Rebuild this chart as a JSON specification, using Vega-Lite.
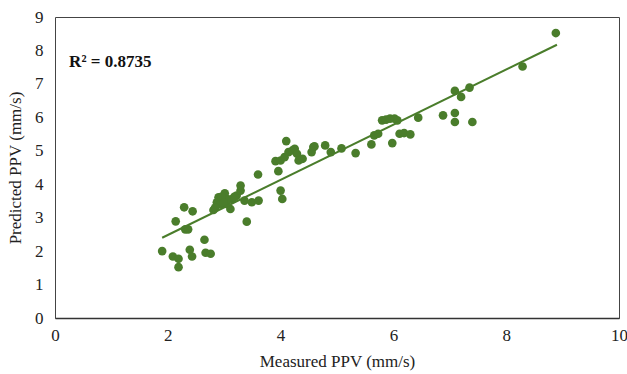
{
  "$schema": "https://vega.github.io/schema/vega-lite/v6.json",
  "autosize": {"type": "none"},
  "width": 564,
  "height": 301,
  "padding": {"left": 55, "top": 17, "right": 8, "bottom": 56},
  "background": "white",
  "config": {
    "view": {"stroke": "#444444", "strokeWidth": 1},
    "axis": {"grid": false, "ticks": false, "domain": false, "labelFont": "Liberation Serif", "titleFont": "Liberation Serif", "labelFontSize": 17, "titleFontSize": 17, "titleFontWeight": "normal", "labelColor": "#222", "titleColor": "#222", "labelFlush": false, "format": "d"}
  },
  "datasets": {
    "pts": [
      {"m": 1.90, "p": 2.00}, {"m": 2.14, "p": 2.89}, {"m": 2.09, "p": 1.84}, {"m": 2.19, "p": 1.77},
      {"m": 2.19, "p": 1.52}, {"m": 2.29, "p": 3.31}, {"m": 2.31, "p": 2.65}, {"m": 2.36, "p": 2.65},
      {"m": 2.44, "p": 3.19}, {"m": 2.39, "p": 2.04}, {"m": 2.43, "p": 1.84}, {"m": 2.65, "p": 2.34},
      {"m": 2.67, "p": 1.95}, {"m": 2.76, "p": 1.92}, {"m": 2.81, "p": 3.23}, {"m": 2.87, "p": 3.46},
      {"m": 2.90, "p": 3.61}, {"m": 2.97, "p": 3.51}, {"m": 3.01, "p": 3.73}, {"m": 3.04, "p": 3.41},
      {"m": 3.11, "p": 3.26}, {"m": 3.15, "p": 3.56}, {"m": 3.22, "p": 3.66}, {"m": 3.29, "p": 3.81},
      {"m": 3.29, "p": 3.96}, {"m": 3.36, "p": 3.51}, {"m": 3.40, "p": 2.88}, {"m": 3.49, "p": 3.46},
      {"m": 3.61, "p": 3.51}, {"m": 3.60, "p": 4.29}, {"m": 2.93, "p": 3.40}, {"m": 3.07, "p": 3.55},
      {"m": 2.84, "p": 3.30}, {"m": 2.95, "p": 3.62}, {"m": 3.18, "p": 3.62}, {"m": 2.99, "p": 3.45},
      {"m": 3.91, "p": 4.69}, {"m": 3.96, "p": 4.39}, {"m": 4.00, "p": 4.71}, {"m": 4.00, "p": 3.81},
      {"m": 4.03, "p": 3.56}, {"m": 4.07, "p": 4.81}, {"m": 4.10, "p": 5.29}, {"m": 4.14, "p": 4.96},
      {"m": 4.21, "p": 5.01}, {"m": 4.25, "p": 5.06}, {"m": 4.29, "p": 4.91}, {"m": 4.32, "p": 4.71},
      {"m": 4.39, "p": 4.76}, {"m": 4.55, "p": 4.96}, {"m": 4.58, "p": 5.11}, {"m": 4.60, "p": 5.13},
      {"m": 4.79, "p": 5.16}, {"m": 4.89, "p": 4.96}, {"m": 5.08, "p": 5.07}, {"m": 5.33, "p": 4.93},
      {"m": 5.61, "p": 5.19}, {"m": 5.66, "p": 5.46}, {"m": 5.73, "p": 5.51}, {"m": 5.80, "p": 5.91},
      {"m": 5.87, "p": 5.93}, {"m": 5.94, "p": 5.96}, {"m": 6.02, "p": 5.96}, {"m": 6.07, "p": 5.91},
      {"m": 5.98, "p": 5.23}, {"m": 6.11, "p": 5.51}, {"m": 6.19, "p": 5.53}, {"m": 6.30, "p": 5.49},
      {"m": 6.44, "p": 5.99}, {"m": 6.88, "p": 6.06}, {"m": 7.09, "p": 6.13}, {"m": 7.09, "p": 5.86},
      {"m": 7.09, "p": 6.79}, {"m": 7.20, "p": 6.61}, {"m": 7.35, "p": 6.89}, {"m": 7.40, "p": 5.86},
      {"m": 8.29, "p": 7.52}, {"m": 8.88, "p": 8.52}
    ],
    "fit": [{"m": 1.90, "p": 2.40}, {"m": 8.90, "p": 8.17}],
    "label": [{"m": 0.25, "p": 7.65, "t": "R² = 0.8735"}]
  },
  "encoding": {
    "x": {"field": "m", "type": "quantitative", "scale": {"domain": [0, 10], "nice": false}, "axis": {"values": [0, 2, 4, 6, 8, 10], "title": "Measured PPV  (mm/s)", "labelPadding": 9, "titlePadding": 10, "labelOverlap": false, "domain": true, "domainColor": "#333", "domainWidth": 1.5}},
    "y": {"field": "p", "type": "quantitative", "scale": {"domain": [0, 9], "nice": false}, "axis": {"values": [0, 1, 2, 3, 4, 5, 6, 7, 8, 9], "title": "Predicted PPV  (mm/s)", "labelPadding": 12, "titlePadding": 10, "labelOverlap": false}}
  },
  "layer": [
    {
      "data": {"name": "pts"},
      "mark": {"type": "circle", "size": 75, "opacity": 1, "color": "#4a7d2b"}
    },
    {
      "data": {"name": "fit"},
      "mark": {"type": "line", "color": "#4a7d2b", "strokeWidth": 2}
    },
    {
      "data": {"name": "label"},
      "mark": {"type": "text", "align": "left", "baseline": "middle", "font": "Liberation Serif", "fontWeight": "bold", "fontSize": 17, "color": "#111"},
      "encoding": {
        "text": {"field": "t"}
      }
    }
  ]
}
